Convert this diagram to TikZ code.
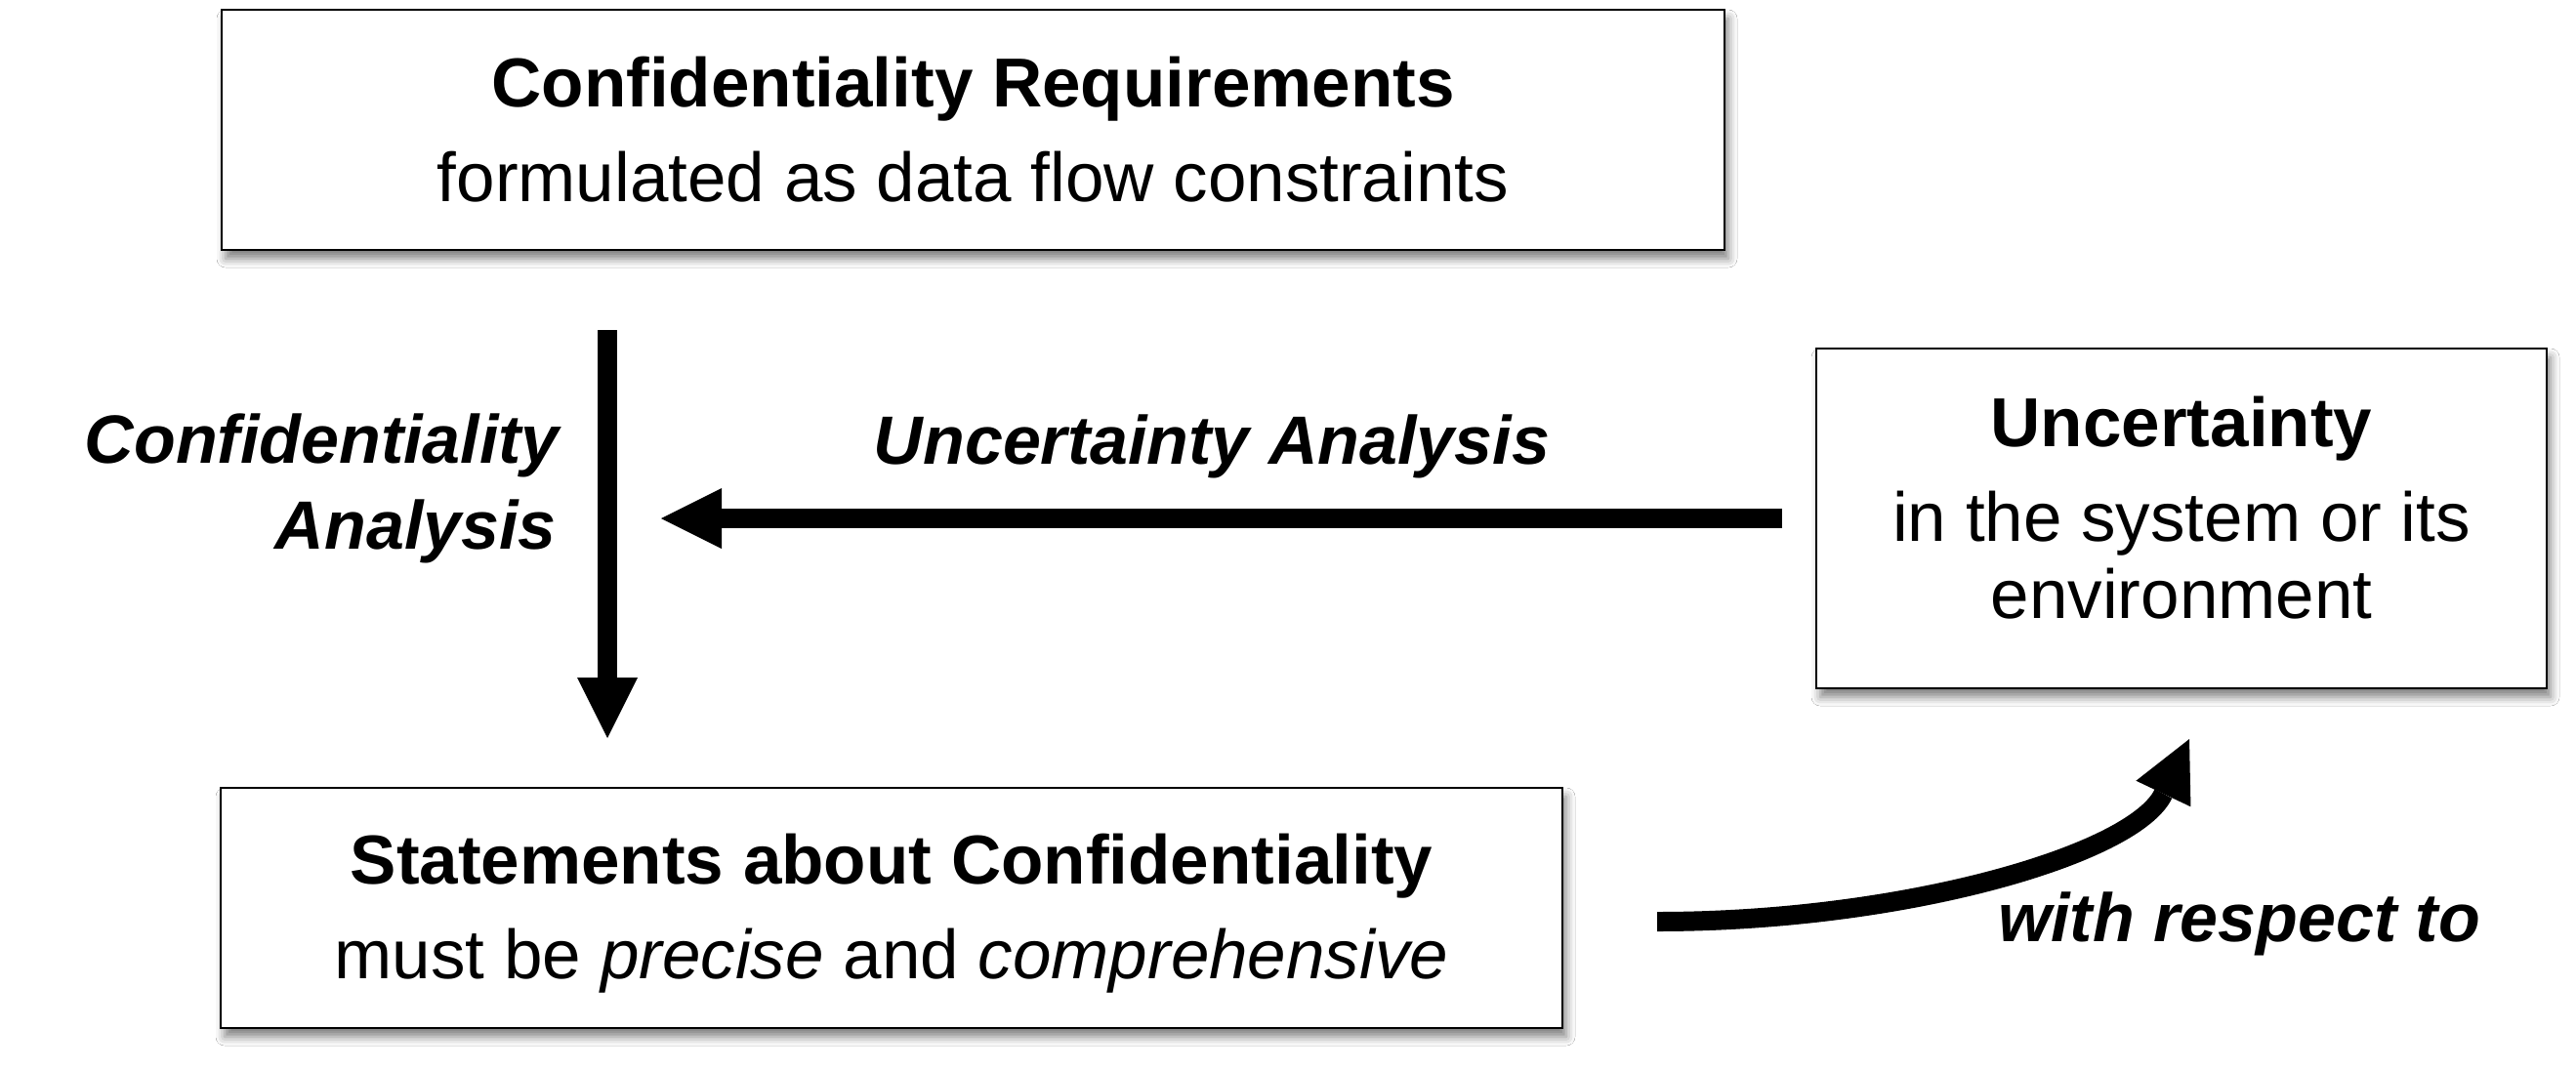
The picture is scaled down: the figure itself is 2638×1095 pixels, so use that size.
\documentclass[tikz,border=0pt]{standalone}
\usepackage{fontspec}
\setmainfont{Liberation Sans}
\usetikzlibrary{arrows.meta,shadows.blur}
\begin{document}
\begin{tikzpicture}[x=1pt,y=-1pt,
  box/.style={draw=black, line width=2.5pt, fill=white, inner sep=0pt,
    blur shadow={shadow xshift=4pt, shadow yshift=-9pt, shadow blur radius=9pt, shadow opacity=50}},
  txt/.style={anchor=base, inner sep=0pt, font=\fontsize{71pt}{85pt}\selectfont},
  hd/.style={anchor=base, inner sep=0pt, font=\fontsize{71pt}{85pt}\selectfont\bfseries},
  lbl/.style={inner sep=0pt, font=\fontsize{70pt}{84pt}\selectfont\bfseries\itshape},
  conn/.style={line width=20pt, -{Triangle[length=62pt,width=62pt,line width=0pt]}}]
\fill[white] (0,0) rectangle (2638,1095);
\useasboundingbox (0,0) rectangle (2638,1095);
% boxes
\node[box, minimum width=1539pt, minimum height=246pt] (req) at (996.5,133) {};
\node[hd] (reqT) at (996.5,109) {Confidentiality Requirements};
\node[txt] (reqS) at (996.5,206) {formulated as data flow constraints};
\node[box, minimum width=748pt, minimum height=348pt] (unc) at (2234,531) {};
\node[hd] (uncT) at (2234,457) {Uncertainty};
\node[txt] (uncS1) at (2234,554) {in the system or its};
\node[txt] (uncS2) at (2234,633) {environment};
\node[box, minimum width=1374pt, minimum height=246pt] (stm) at (913,930) {};
\node[hd] (stmT) at (913,905) {Statements about Confidentiality};
\node[txt] (stmS) at (913,1002) {must be \textit{precise} and \textit{comprehensive}};
% connectors
\coordinate (vS) at (622,338); \coordinate (vE) at (622,756);
\coordinate (hS) at (1825,531); \coordinate (hE) at (677,531);
\coordinate (cS) at (1697,944); \coordinate (cE) at (2242,757);
\draw[conn] (vS) -- (vE);
\draw[conn] (hS) -- (hE);
\draw[conn] (cS) .. controls (1950,944) and (2186,875) .. (cE);
% labels
\node[lbl, anchor=base east] (lc1) at (573,474) {Confidentiality};
\node[lbl, anchor=base east] (lc2) at (570,562) {Analysis};
\node[lbl, anchor=base] (lu) at (1241,475) {Uncertainty Analysis};
\node[lbl, anchor=base] (lw) at (2293,964) {with respect to};
\end{tikzpicture}
\end{document}
